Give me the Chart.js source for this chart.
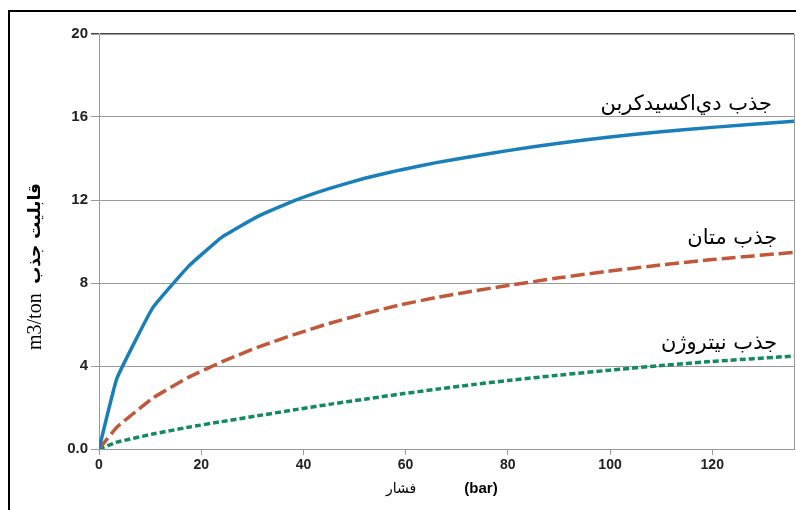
<!DOCTYPE html>
<html>
<head>
<meta charset="utf-8">
<script src="https://cdn.jsdelivr.net/npm/chart.js@4.4.1/dist/chart.umd.min.js"></script>
<style>
  html, body { margin: 0; padding: 0; background: #fff; overflow: hidden; }
  #wrap { position: relative; width: 796px; height: 510px; }
  #frame { position: absolute; left: 8px; top: 10px; width: 900px; height: 600px; border: 2px solid #000; }
  canvas { position: absolute; left: 0; top: 0; }
</style>
</head>
<body>
<div id="wrap">
  <div id="frame"></div>
  <canvas id="adsChart" width="796" height="510"></canvas>
</div>
<script>
// pressure (bar)
const pressure = [0, 3.5, 10.5, 17.5, 24, 31, 38, 45, 52, 59, 66, 73, 80, 90, 100, 110, 120, 136];
// adsorption capacity (m3/ton)
const co2Ads = [0, 3.4, 6.8, 8.8, 10.2, 11.2, 11.95, 12.55, 13.05, 13.45, 13.8, 14.1, 14.38, 14.74, 15.04, 15.29, 15.5, 15.8];
const ch4Ads = [0, 1.05, 2.45, 3.45, 4.2, 4.9, 5.5, 6.05, 6.52, 6.95, 7.3, 7.6, 7.88, 8.25, 8.58, 8.87, 9.13, 9.48];
const n2Ads = [0, 0.33, 0.72, 1.05, 1.32, 1.6, 1.88, 2.15, 2.4, 2.65, 2.88, 3.1, 3.3, 3.56, 3.8, 4.02, 4.22, 4.48];

const seriesNames = ['جذب دي‌اکسیدکربن', 'جذب متان', 'جذب نیتروژن'];
// where each curve label sits (data coords, right edge of text)
const labelX = [131.7, 132.7, 132.7];
const labelY = [16.58, 10.12, 5.06];

const yTitleUnit = 'm3/ton';
const yTitleFa = 'قابلیت جذب';
const xTitleFa = 'فشار';
const xTitleUnit = '(bar)';

const toPts = ys => pressure.map((p, i) => ({ x: p, y: ys[i] }));

const textPlugin = {
  id: 'textPlugin',
  afterDraw(chart) {
    const { ctx, chartArea, scales } = chart;
    ctx.save();
    // right border of plot
    ctx.strokeStyle = '#999';
    ctx.lineWidth = 1;
    ctx.beginPath();
    ctx.moveTo(chartArea.right + 0.5, chartArea.top);
    ctx.lineTo(chartArea.right + 0.5, chartArea.bottom);
    ctx.stroke();

    // curve labels
    ctx.fillStyle = '#000';
    ctx.font = '21px "DejaVu Sans"';
    ctx.textAlign = 'right';
    ctx.textBaseline = 'middle';
    seriesNames.forEach((name, i) => {
      ctx.fillText(name, scales.x.getPixelForValue(labelX[i]), scales.y.getPixelForValue(labelY[i]));
    });

    // y title (rotated, reads bottom to top)
    ctx.save();
    ctx.translate(36, 0);
    ctx.rotate(-Math.PI / 2);
    ctx.textAlign = 'left';
    ctx.font = '20px "Liberation Serif"';
    ctx.fillText(yTitleUnit, -350, 0);
    ctx.textAlign = 'right';
    ctx.font = 'bold 17px "DejaVu Sans"';
    ctx.fillText(yTitleFa, -183, 0);
    ctx.restore();

    // x title
    ctx.textAlign = 'center';
    ctx.font = '14px "DejaVu Sans"';
    ctx.fillText(xTitleFa, 401, 489);
    ctx.font = 'bold 15px "Liberation Sans", Arial';
    ctx.fillText(xTitleUnit, 481, 489);
    ctx.restore();
  }
};

new Chart(document.getElementById('adsChart'), {
  type: 'line',
  data: {
    datasets: [{
      label: seriesNames[0],
      data: toPts(co2Ads),
      borderColor: '#1a7fb8',
      borderWidth: 3.5,
      pointRadius: 0,
      tension: 0.1
    }, {
      label: seriesNames[1],
      data: toPts(ch4Ads),
      borderColor: '#c0583b',
      borderWidth: 3.5,
      borderDash: [14, 5],
      pointRadius: 0,
      tension: 0.1
    }, {
      label: seriesNames[2],
      data: toPts(n2Ads),
      borderColor: '#14895c',
      borderWidth: 3.5,
      borderDash: [6, 3],
      pointRadius: 0,
      tension: 0.1
    }]
  },
  options: {
    responsive: false,
    animation: false,
    layout: { padding: { top: 34, right: 2, left: 0, bottom: 0 } },
    plugins: { legend: { display: false }, tooltip: { enabled: false } },
    scales: {
      x: {
        type: 'linear',
        min: 0,
        max: 136,
        afterFit: s => { s.height = 61; },
        border: { color: '#999' },
        grid: { drawOnChartArea: false, drawTicks: true, tickLength: 6, color: '#999' },
        ticks: {
          stepSize: 20,
          includeBounds: false,
          padding: 2,
          color: '#222',
          font: { family: '"Liberation Sans", Arial', size: 14, weight: 'bold' }
        }
      },
      y: {
        min: 0,
        max: 20,
        afterFit: s => { s.width = 99; },
        border: { color: '#999' },
        grid: {
          color: c => (c.tick && c.tick.value === 20 ? '#444' : '#999'),
          lineWidth: c => (c.tick && c.tick.value === 20 ? 1.5 : 1),
          tickLength: 8
        },
        ticks: {
          stepSize: 4,
          padding: 3,
          color: '#222',
          font: { family: '"Liberation Sans", Arial', size: 15, weight: 'bold' },
          callback: v => (v === 0 ? '0.0' : v)
        }
      }
    }
  },
  plugins: [textPlugin]
});
</script>
</body>
</html>
